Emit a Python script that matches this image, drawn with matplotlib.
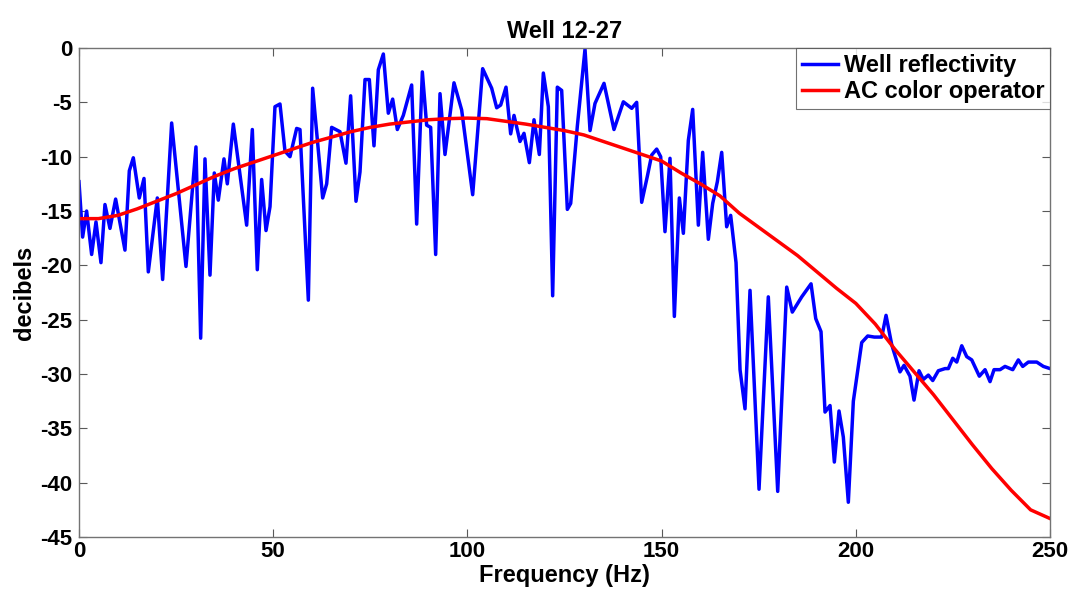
import matplotlib
matplotlib.use("Agg")
import matplotlib.pyplot as plt

# blue trace: well reflectivity spectrum (Hz, dB)
well_hz = [0, 0.94, 1.97, 3.26, 4.38, 5.66, 6.69, 7.98, 9.44, 11.84, 12.96, 13.99,
           15.53, 16.74, 17.85, 20.17, 21.54, 23.86, 27.55, 30.12, 31.33, 32.44,
           33.73, 34.84, 35.87, 37.33, 38.19, 39.74, 43.17, 44.63, 45.91, 47.03,
           48.15, 49.18, 50.46, 51.75, 53.04, 54.33, 56.04, 56.9, 59.05, 60.16,
           62.74, 63.77, 65.05, 67.2, 68.74, 69.94, 71.32, 72.35, 73.64, 74.75,
           75.95, 77.07, 78.36, 79.64, 80.76, 81.96, 83.5, 85.65, 86.94, 88.4,
           89.51, 90.54, 91.83, 92.95, 94.23, 96.55, 98.52, 101.36, 103.93, 106.25,
           107.54, 108.57, 109.94, 111.14, 112.0, 113.54, 114.57, 115.95, 117.15,
           118.52, 119.55, 120.84, 121.95, 123.15, 124.27, 125.73, 126.59, 128.3,
           130.28, 131.57, 132.85, 135.17, 137.74, 140.15, 142.3, 143.58, 144.87,
           146.33, 147.44, 148.73, 149.76, 150.87, 152.16, 153.28, 154.57, 155.6,
           156.88, 158.0, 159.46, 160.57, 162.03, 163.15, 164.35, 165.47, 166.75,
           167.78, 169.16, 170.19, 171.47, 172.76, 175.08, 177.47, 179.89, 182.21,
           183.65, 186.07, 188.47, 189.68, 191.04, 192.07, 193.36, 194.47, 195.67,
           196.78, 198.07, 199.36, 201.52, 203.06, 204.76, 206.67, 207.78, 209.24,
           211.38, 212.41, 213.95, 214.98, 216.27, 217.38, 218.67, 219.8, 221.24,
           222.97, 223.82, 224.95, 225.98, 227.27, 228.55, 229.84, 231.8, 233.27,
           234.55, 235.58, 237.13, 238.41, 240.4, 241.84, 242.97, 244.42, 246.58,
           248.28, 250.0]
well_db = [-12.3, -17.4, -15.0, -19.0, -16.0, -19.75, -14.4, -16.6, -13.9, -18.6, -11.3, -10.1,
           -13.8, -12.0, -20.6, -13.8, -21.3, -6.9, -20.1, -9.1, -26.7, -10.2,
           -20.9, -11.5, -14.0, -10.2, -12.5, -7.0, -16.3, -7.5, -20.4, -12.1,
           -16.8, -14.6, -5.4, -5.15, -9.5, -10.0, -7.4, -7.5, -23.2, -3.7,
           -13.8, -12.5, -7.3, -7.7, -10.6, -4.4, -14.1, -11.4, -2.9, -2.9,
           -9.0, -2.0, -0.55, -6.0, -4.7, -7.5, -6.2, -3.4, -16.2, -2.2,
           -7.1, -7.3, -19.0, -4.2, -9.8, -3.2, -5.7, -13.5, -1.9, -3.7,
           -5.5, -5.25, -3.6, -7.9, -6.2, -8.6, -7.85, -10.55, -6.6,
           -9.8, -2.3, -5.4, -22.8, -3.6, -3.9, -14.85, -14.3, -7.2,
           -0.1, -7.6, -5.1, -3.25, -7.5, -4.95, -5.55, -5.0, -14.2,
           -11.8, -9.85, -9.3, -10.0, -16.9, -10.15, -24.7, -13.8, -17.05,
           -8.5, -5.65, -16.3, -9.6, -17.6, -14.3, -12.3, -9.6, -16.45,
           -15.4, -19.75, -29.6, -33.2, -22.3, -40.6, -22.9, -40.8, -22.0,
           -24.3, -22.9, -21.7, -24.9, -26.1, -33.5, -32.9, -38.1, -33.4,
           -35.8, -41.8, -32.5, -27.1, -26.5, -26.6, -26.6, -24.6, -27.3,
           -29.8, -29.2, -30.2, -32.4, -29.7, -30.5, -30.1, -30.6, -29.7,
           -29.5, -29.5, -28.55, -28.9, -27.4, -28.4, -28.7, -30.2, -29.6,
           -30.7, -29.6, -29.6, -29.3, -29.6, -28.7, -29.3, -28.9, -28.9,
           -29.3, -29.5]

# red trace: AC color operator
op_hz = list(range(0, 255, 5))
op_db = [-15.7, -15.7, -15.4, -14.8, -14.1, -13.4, -12.6, -11.8, -11.1, -10.5,
         -9.9, -9.3, -8.7, -8.2, -7.7, -7.3, -7.0, -6.8, -6.6, -6.5,
         -6.45, -6.5, -6.75, -7.0, -7.3, -7.6, -8.0, -8.6, -9.2, -9.8,
         -10.4, -11.5, -12.5, -13.6, -15.2, -16.5, -17.8, -19.1, -20.6, -22.1,
         -23.5, -25.4, -27.7, -29.8, -31.9, -34.2, -36.5, -38.7, -40.7, -42.5,
         -43.3]

xticks = [0, 50, 100, 150, 200, 250]
yticks = list(range(-45, 1, 5))

plt.rcParams['font.family'] = ['Liberation Sans', 'DejaVu Sans']
plt.rcParams['font.weight'] = 'bold'
plt.rcParams['axes.unicode_minus'] = False

fig = plt.figure(figsize=(10.73, 5.90), dpi=100)
ax = fig.add_axes([0.0736, 0.0898, 0.905, 0.8288])

ax.plot(well_hz, well_db, color='#0000ff', lw=2.5, label='Well reflectivity')
ax.plot(op_hz, op_db, color='#ff0000', lw=2.5, label='AC color operator')

ax.set_xlim(0, 250)
ax.set_ylim(-45, 0)
ax.set_xticks(xticks)
ax.set_yticks(yticks)
ax.tick_params(direction='in', length=6, width=0.8, color='0.35', top=True, right=True,
               labelsize=16)
ax.tick_params(axis='x', pad=3)
ax.tick_params(axis='y', pad=5)
for s in ax.spines.values():
    s.set_color('0.45')
    s.set_linewidth(1.0)

ax.set_title('Well 12-27', fontsize=17, fontweight='bold', pad=7)
ax.set_xlabel('Frequency (Hz)', fontsize=17, fontweight='bold', labelpad=1)
ax.set_ylabel('decibels', fontsize=17, fontweight='bold', labelpad=3)

leg = ax.legend(loc='upper right', fontsize=17, frameon=True, fancybox=False,
                borderaxespad=0, handlelength=1.5, handletextpad=0.25,
                borderpad=0.25, labelspacing=0.15)
leg.get_frame().set_edgecolor('0.3')
leg.get_frame().set_linewidth(0.8)

fig.savefig('out.png', dpi=100)
